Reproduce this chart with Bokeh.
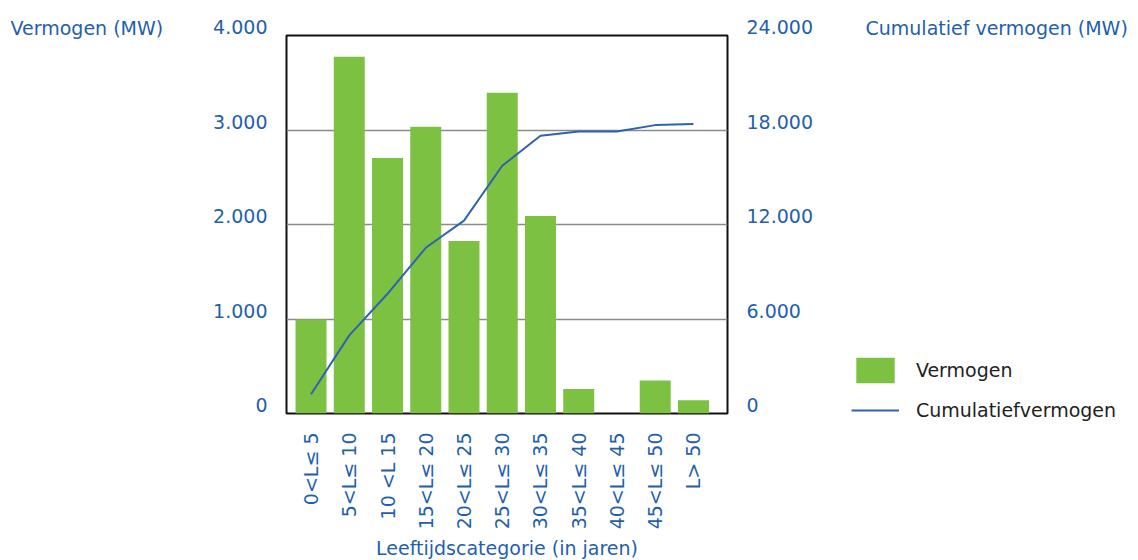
import math
from bokeh.plotting import figure
from bokeh.models import Range1d, LinearAxis, FixedTicker, Legend, Label
from bokeh.embed import file_html
from bokeh.resources import INLINE

categories = ["0<L≤ 5", "5<L≤ 10", "10 <L 15", "15<L≤ 20", "20<L≤ 25", "25<L≤ 30",
              "30<L≤ 35", "35<L≤ 40", "40<L≤ 45", "45<L≤ 50", "L> 50"]
vermogen = [995, 3775, 2705, 3035, 1825, 3395, 2090, 260, 0, 350, 140]
cumulatief = [1220, 4960, 7600, 10520, 12250, 15730, 17630, 17900, 17900, 18310, 18380]
left_ticks = [0, 1000, 2000, 3000, 4000]
left_tick_labels = ["0", "1.000", "2.000", "3.000", "4.000"]
right_ticks = [0, 6000, 12000, 18000, 24000]
right_tick_labels = ["0", "6.000", "12.000", "18.000", "24.000"]

FONT = "DejaVu Sans"
BLUE = "#1f5fae"
GREEN = "#7cc142"
LINE = "#2e63b0"
FS = "19px"

xs = list(range(len(categories)))
X0, X1 = -0.641, 10.89

p = figure(x_range=Range1d(X0, X1), y_range=Range1d(0, 4000),
           frame_width=441, frame_height=378,
           min_border_left=286, min_border_right=411, min_border_top=35, min_border_bottom=147,
           output_backend="svg", toolbar_location=None)
p.extra_y_ranges = {"cum": Range1d(0, 24000)}
p.background_fill_color = "white"
p.border_fill_color = "white"
p.outline_line_color = "#111111"
p.outline_line_width = 2

p.xgrid.visible = False
p.ygrid.ticker = FixedTicker(ticks=left_ticks[1:-1])
p.ygrid.grid_line_color = "#8c8c8c"
p.ygrid.grid_line_width = 1.5


def style_axis(ax):
    ax.axis_line_color = None
    ax.major_tick_line_color = None
    ax.minor_tick_line_color = None
    ax.major_tick_out = 0
    ax.major_tick_in = 0
    ax.minor_tick_out = 0
    ax.minor_tick_in = 0
    ax.major_label_standoff = 19
    ax.major_label_text_font = FONT
    ax.major_label_text_font_size = FS
    ax.major_label_text_color = BLUE


# left axis (labels sit on their gridline, as in the original)
ya = p.yaxis[0]
ya.ticker = FixedTicker(ticks=left_ticks)
ya.major_label_overrides = {t: s + "\n" for t, s in zip(left_ticks, left_tick_labels)}
style_axis(ya)
ya.major_label_text_line_height = 0.75

# x axis
xa = p.xaxis[0]
xa.ticker = FixedTicker(ticks=xs)
xa.major_label_overrides = {i: c for i, c in zip(xs, categories)}
style_axis(xa)
xa.major_label_orientation = math.pi / 2
xa.axis_label = "Leeftijdscategorie (in jaren)"
xa.axis_label_text_font = FONT
xa.axis_label_text_font_size = FS
xa.axis_label_text_font_style = "normal"
xa.axis_label_text_color = BLUE
xa.axis_label_standoff = 5

# right axis
ra = LinearAxis(y_range_name="cum", ticker=FixedTicker(ticks=right_ticks))
ra.major_label_overrides = {t: s + "\n" for t, s in zip(right_ticks, right_tick_labels)}
style_axis(ra)
ra.major_label_text_line_height = 0.75
p.add_layout(ra, "right")

bars = p.vbar(x=xs, top=vermogen, width=0.81, fill_color=GREEN, line_color=None)
ln = p.line(x=xs, y=cumulatief, y_range_name="cum", line_color=LINE, line_width=2)

legend = Legend(items=[("Vermogen", [bars]), ("Cumulatiefvermogen", [ln])],
                location=(-190, -13), glyph_width=48, glyph_height=32, label_height=32,
                spacing=8, label_standoff=17, padding=0, margin=0, border_line_color=None,
                background_fill_alpha=0, label_text_font=FONT,
                label_text_font_size=FS, label_text_color="#231f20")
p.add_layout(legend, "right")

t1 = Label(x=X0, y=4000, x_offset=-276, y_offset=8, text="Vermogen (MW)", text_font=FONT,
           text_font_size=FS, text_color=BLUE, text_baseline="alphabetic", text_align="left")
t2 = Label(x=X1, y=4000, x_offset=138, y_offset=8, text="Cumulatief vermogen (MW)", text_font=FONT,
           text_font_size=FS, text_color=BLUE, text_baseline="alphabetic", text_align="left")
p.add_layout(t1, "left")
p.add_layout(t2, "above")

open("out.html", "w").write(file_html(p, INLINE))
